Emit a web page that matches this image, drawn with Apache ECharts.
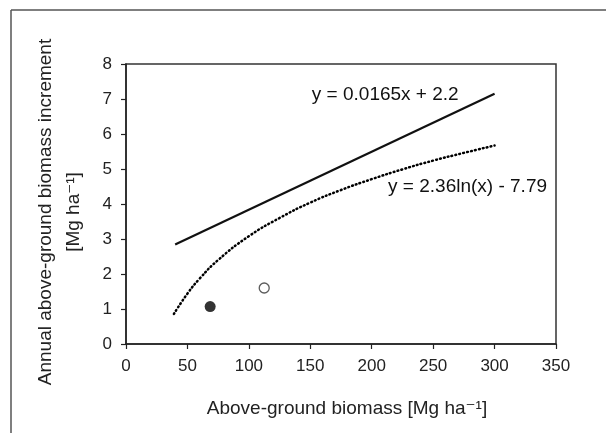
<!DOCTYPE html>
<html>
<head>
<meta charset="utf-8">
<script src="https://cdn.jsdelivr.net/npm/echarts@6/dist/echarts.min.js"></script>
<style>
html,body{margin:0;padding:0;background:#fff;}
#c{width:606px;height:433px;}
</style>
</head>
<body>
<div id="c"></div>
<script>
// Data
const xTicks = [0, 50, 100, 150, 200, 250, 300, 350];
const yTicks = [0, 1, 2, 3, 4, 5, 6, 7, 8];
const linearX = [40, 300];
const linearY = [2.84, 7.15];
const logX = [39, 50, 60, 75, 100, 125, 150, 175, 200, 225, 250, 275, 300];
const logY = [0.86, 1.44, 1.87, 2.40, 3.08, 3.60, 4.04, 4.40, 4.71, 4.99, 5.24, 5.46, 5.67];
const filledPt = [68.5, 1.07];
const openPt = [112.5, 1.60];
const linearLabel = 'y = 0.0165x + 2.2';
const logLabel = 'y = 2.36ln(x) - 7.79';
const xTitle = 'Above-ground biomass [Mg ha\u207B\u00B9]';
const yTitle = 'Annual above-ground biomass increment\n[Mg ha\u207B\u00B9]';

const FONT = '"Liberation Sans", Arial, "DejaVu Sans", sans-serif';
const chart = echarts.init(document.getElementById('c'), null, {renderer: 'canvas'});

const axisCommon = {
  axisLine: {show: true, onZero: false, lineStyle: {color: '#222', width: 1.5}},
  axisTick: {show: true, inside: false, length: 5, lineStyle: {color: '#222', width: 1.2}},
  splitLine: {show: false}
};

chart.setOption({
  animation: false,
  backgroundColor: '#fff',
  grid: {left: 126, right: 50, top: 64, bottom: 89, show: true, borderColor: '#333', borderWidth: 1.5, containLabel: false},
  xAxis: Object.assign({}, axisCommon, {
    type: 'value', min: xTicks[0], max: xTicks[xTicks.length - 1], interval: 50,
    name: xTitle, nameLocation: 'middle', nameGap: 54,
    nameTextStyle: {color: '#222', fontSize: 19, fontFamily: FONT, lineHeight: 22, padding: [0, 0, 0, 12]},
    axisLabel: {color: '#222', fontSize: 17, fontFamily: FONT, margin: 14}
  }),
  yAxis: Object.assign({}, axisCommon, {
    type: 'value', min: yTicks[0], max: yTicks[yTicks.length - 1], interval: 1,
    name: yTitle, nameLocation: 'middle', nameGap: 38, nameRotate: 90,
    nameTextStyle: {color: '#222', fontSize: 19, fontFamily: FONT, lineHeight: 28, padding: [0, 16, 0, 0]},
    axisLabel: {color: '#222', fontSize: 17, fontFamily: FONT, margin: 14}
  }),
  graphic: [
    {type: 'line', shape: {x1: 11, y1: 10, x2: 606, y2: 10}, style: {stroke: '#555', lineWidth: 1.5}},
    {type: 'line', shape: {x1: 11, y1: 10, x2: 11, y2: 433}, style: {stroke: '#555', lineWidth: 1.5}}
  ],
  series: [
    {
      type: 'line', data: linearX.map((x, i) => [x, linearY[i]]),
      showSymbol: false, lineStyle: {color: '#111', width: 2.2},
      markPoint: {
        symbol: 'circle', symbolSize: 0,
        label: {show: true, position: 'inside', color: '#111', fontSize: 19, fontFamily: FONT, formatter: linearLabel},
        data: [{coord: [211, 7.12]}]
      }
    },
    {
      type: 'line', smooth: true, data: logX.map((x, i) => [x, logY[i]]),
      showSymbol: false, lineStyle: {color: '#000', width: 2.5, type: [0.8, 3.2], cap: 'round'},
      markPoint: {
        symbol: 'circle', symbolSize: 0,
        label: {show: true, position: 'inside', color: '#111', fontSize: 19, fontFamily: FONT, formatter: logLabel},
        data: [{coord: [278, 4.48]}]
      }
    },
    {
      type: 'scatter', data: [filledPt], symbol: 'circle', symbolSize: 11,
      itemStyle: {color: '#000'}
    },
    {
      type: 'scatter', data: [openPt], symbol: 'circle', symbolSize: 10,
      itemStyle: {color: '#fff', borderColor: '#333', borderWidth: 1.3}
    }
  ]
});
</script>
</body>
</html>
